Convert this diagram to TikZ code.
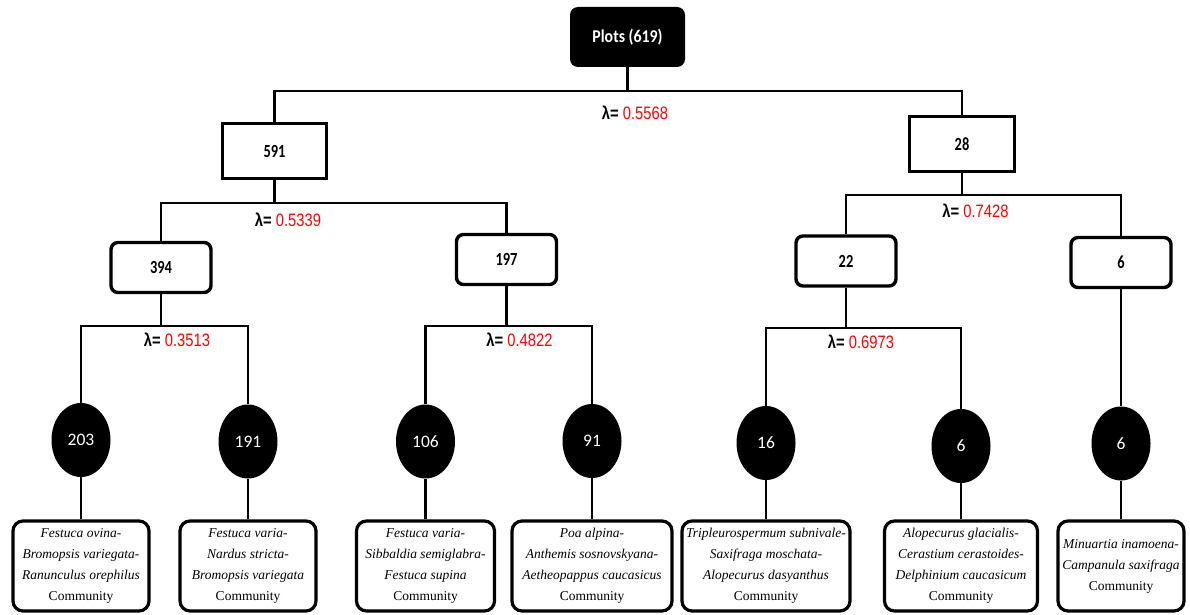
\documentclass[tikz,border=0pt]{standalone}
\usepackage{fontspec}
\setmainfont{Liberation Serif}
\newfontfamily\numfont[FakeStretch=0.78]{Carlito}
\newfontfamily\rootfont[FakeStretch=0.88]{Carlito}
\newfontfamily\ovalfont{Carlito}
\newfontfamily\lamfont[FakeStretch=0.82]{Liberation Sans}
\usetikzlibrary{shapes.geometric}

\tikzset{
  link/.style={line width=2.4pt},
  rootbox/.style={fill=black, rounded corners=8pt, minimum width=115pt, minimum height=60pt,
    inner sep=0pt, text=white, font=\rootfont\fontsize{18}{20}\selectfont\bfseries},
  squarebox/.style={draw, line width=2.6pt, minimum width=104.5pt, minimum height=55.5pt,
    inner sep=0pt, font=\numfont\fontsize{18.5}{20}\selectfont\bfseries},
  roundbox/.style={squarebox, rounded corners=7pt, line width=3.4pt,
    minimum width=100pt, minimum height=50pt},
  oval/.style={ellipse, fill=black, minimum width=59pt, minimum height=74pt, inner sep=0pt,
    text=white, font=\ovalfont\fontsize{17.5}{19}\selectfont},
  community/.style={draw, line width=3.2pt, rounded corners=10pt, minimum height=90pt,
    inner sep=0pt, align=center, font=\fontsize{13.5}{21}\selectfont},
  lambda/.style={font=\lamfont\fontsize{18}{20}\selectfont}
}
\newcommand{\lam}[1]{\textbf{λ=} \textcolor{red}{#1}}

\begin{document}
\begin{tikzpicture}[x=1pt,y=-1pt]
  \useasboundingbox (0,0) rectangle (1190,615);

  % upper levels
  \node[rootbox] (root) at (627.5,37) {Plots (619)};
  \node[squarebox] (n591) at (274.5,151) {591};
  \node[squarebox] (n28) at (962,144) {28};
  \node[roundbox] (n394) at (161,267.5) {394};
  \node[roundbox] (n197) at (506.5,259.5) {197};
  \node[roundbox] (n22) at (846,261) {22};
  \node[roundbox] (n6) at (1121,262.5) {6};

  % leaves
  \foreach \k/\n/\x/\y/\w/\t in {
      203/203/81/440/136/{\textit{Festuca ovina-}\\\textit{Bromopsis variegata-}\\\textit{Ranunculus orephilus}\\Community},
      191/191/248/441.5/136/{\textit{Festuca varia-}\\\textit{Nardus stricta-}\\\textit{Bromopsis variegata}\\Community},
      106/106/425.5/441.5/138/{\textit{Festuca varia-}\\\textit{Sibbaldia semiglabra-}\\\textit{Festuca supina}\\Community},
      91/91/592/441/160/{\textit{Poa alpina-}\\\textit{Anthemis sosnovskyana-}\\\textit{Aetheopappus caucasicus}\\Community},
      16/16/766/443/168/{\textit{Tripleurospermum subnivale-}\\\textit{Saxifraga moschata-}\\\textit{Alopecurus dasyanthus}\\Community},
      6a/6/961/446/153/{\textit{Alopecurus glacialis-}\\\textit{Cerastium cerastoides-}\\\textit{Delphinium caucasicum}\\Community},
      6b/6/1121/443.5/126/{\textit{Minuartia inamoena-}\\\textit{Campanula saxifraga}\\Community}} {
    \node[oval] (e\k) at (\x,\y) {\n};
    \node[community, minimum width=\w pt] (c\k) at (\x,566) {\t};
    \draw[link] (e\k.south) -- (c\k.north);
  }

  % splits
  \draw[link] (root.south) -- (root.south |- 0,91) coordinate (s619);
  \draw[link] (n591.north) |- (s619) -| (n28.north);
  \draw[link] (n591.south) -- (n591.south |- 0,203) coordinate (s591);
  \draw[link] (n394.north) |- (s591) -| (n197.north);
  \draw[link] (n28.south) -- (n28.south |- 0,195) coordinate (s28);
  \draw[link] (n22.north) |- (s28) -| (n6.north);
  \draw[link] (n394.south) -- (n394.south |- 0,326) coordinate (s394);
  \draw[link] (e203.north) |- (s394) -| (e191.north);
  \draw[link] (n197.south) -- (n197.south |- 0,326) coordinate (s197);
  \draw[link] (e106.north) |- (s197) -| (e91.north);
  \draw[link] (n22.south) -- (n22.south |- 0,328) coordinate (s22);
  \draw[link] (e16.north) |- (s22) -| (e6a.north);
  \draw[link] (n6.south) -- (e6b.north);

  % lambda values
  \node[lambda] (l619) at (635,113) {\lam{0.5568}};
  \node[lambda] (l591) at (288,220) {\lam{0.5339}};
  \node[lambda] (l28) at (975.5,211) {\lam{0.7428}};
  \node[lambda] (l394) at (177,340) {\lam{0.3513}};
  \node[lambda] (l197) at (519.5,340) {\lam{0.4822}};
  \node[lambda] (l22) at (861,342) {\lam{0.6973}};
\end{tikzpicture}
\end{document}
